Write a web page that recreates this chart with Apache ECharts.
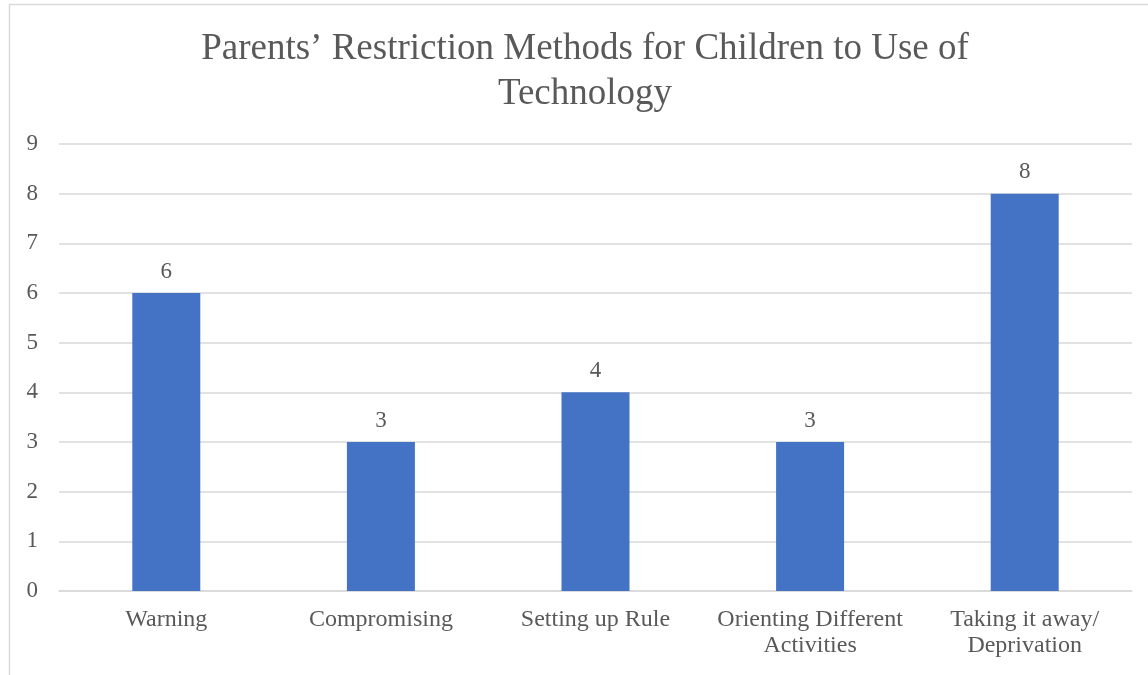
<!DOCTYPE html>
<html>
<head>
<meta charset="utf-8">
<style>
  html, body { margin: 0; padding: 0; background: #fff; }
  #chart { width: 1148px; height: 675px; }
</style>
<script src="https://cdn.jsdelivr.net/npm/echarts@6/dist/echarts.min.js"></script>
</head>
<body>
<div id="chart"></div>
<script>
// Restriction methods and how many parents reported each
const categories = ['Warning', 'Compromising', 'Setting up Rule', 'Orienting Different\nActivities', 'Taking it away/\nDeprivation'];
const counts = [6, 3, 4, 3, 8];
const yTicks = [0, 1, 2, 3, 4, 5, 6, 7, 8, 9];

const serif = '"Liberation Serif", "Times New Roman", serif';
const textColor = '#595959';
const gridColor = '#d9d9d9';

const chart = echarts.init(document.getElementById('chart'));
chart.setOption({
  animation: false,
  backgroundColor: '#ffffff',
  title: {
    text: 'Parents\u2019 Restriction Methods for Children to Use of\nTechnology',
    left: 580,
    top: 22,
    textAlign: 'center',
    textStyle: {
      fontFamily: serif,
      fontSize: 37,
      fontWeight: 'normal',
      color: textColor,
      lineHeight: 45
    }
  },
  graphic: [{
    type: 'rect',
    shape: { x: 9.5, y: 4.5, width: 1200, height: 700 },
    style: { fill: 'none', stroke: '#d9d9d9', lineWidth: 1.5 },
    silent: true,
    z: -1
  }],
  grid: { left: 59, right: 16, top: 144, bottom: 84, containLabel: false },
  xAxis: {
    type: 'category',
    data: categories,
    axisLine: { show: true, lineStyle: { color: gridColor, width: 1.5 } },
    axisTick: { show: false },
    axisLabel: {
      fontFamily: serif,
      fontSize: 24,
      color: textColor,
      lineHeight: 26,
      margin: 16,
      interval: 0
    }
  },
  yAxis: {
    type: 'value',
    min: yTicks[0],
    max: yTicks[yTicks.length - 1],
    interval: 1,
    axisLine: { show: false },
    axisTick: { show: false },
    splitLine: { lineStyle: { color: gridColor, width: 1.5 } },
    axisLabel: {
      fontFamily: serif,
      fontSize: 23,
      color: textColor,
      margin: 21
    }
  },
  series: [{
    type: 'bar',
    data: counts,
    barWidth: 68,
    itemStyle: { color: '#4472C4' },
    label: {
      show: true,
      position: 'top',
      distance: 10,
      fontFamily: serif,
      fontSize: 23,
      color: textColor
    }
  }]
});
</script>
</body>
</html>
